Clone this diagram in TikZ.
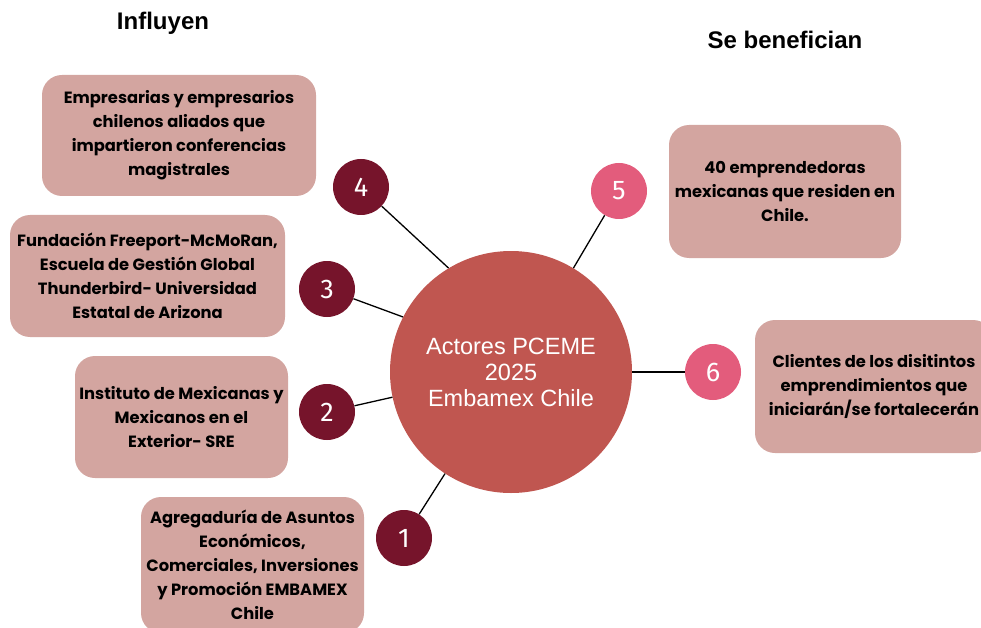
\documentclass[tikz,border=0pt]{standalone}
\usepackage{fontspec}
\setmainfont{Poppins}
\newfontfamily\headfont{Liberation Sans}
\newfontfamily\numfont{Fira Sans}
\definecolor{boxrose}{HTML}{D3A5A0}
\definecolor{hubred}{HTML}{C05650}
\definecolor{wine}{HTML}{76142B}
\definecolor{pinkish}{HTML}{E35C7C}
\tikzset{
  actor/.style={fill=boxrose, rounded corners=20pt, align=center, inner sep=2pt,
    font=\fontsize{16.3}{24}\selectfont\bfseries},
  num/.style={circle, minimum size=56pt, inner sep=0pt, text=white,
    font=\numfont\fontsize{27}{27}\selectfont},
  head/.style={font=\headfont\fontsize{24}{28}\selectfont\bfseries}
}
\begin{document}
\begin{tikzpicture}[x=1pt,y=-1pt]
\useasboundingbox (0,0) rectangle (981,628);
% Headers
\node[head] (influyen) at (163,23) {Influyen};
\node[head] (benefician) at (785,40) {Se benefician};
% Central circle
\node[circle, fill=hubred, minimum size=242pt, inner sep=0pt, text=white, align=center,
  font=\headfont\fontsize{23.5}{26}\selectfont] (hub) at (511,372)
  {Actores PCEME\\2025\\Embamex Chile};
% Boxes on the left
\node[actor, minimum width=274pt, minimum height=121pt] (box-4) at (179,135.5)
  {Empresarias y empresarios\\chilenos aliados que\\impartieron conferencias\\magistrales};
\node[actor, minimum width=275pt, minimum height=122pt] (box-3) at (147.5,276)
  {Fundación Freeport-McMoRan,\\Escuela de Gestión Global\\Thunderbird- Universidad\\Estatal de Arizona};
\node[actor, minimum width=213pt, minimum height=122pt] (box-2) at (181.5,417)
  {Instituto de Mexicanas y\\Mexicanos en el\\Exterior- SRE};
\node[actor, minimum width=223pt, minimum height=136pt] (box-1) at (252.5,565)
  {Agregaduría de Asuntos\\Económicos,\\Comerciales, Inversiones\\y Promoción EMBAMEX\\Chile};
% Boxes on the right
\node[actor, minimum width=232pt, minimum height=133pt] (box-5) at (785,191.5)
  {40 emprendedoras\\mexicanas que residen en\\Chile.};
\node[actor, minimum width=238pt, minimum height=133pt] (box-6) at (874,386.5)
  {Clientes de los disitintos\\emprendimientos que\\iniciarán/se fortalecerán};
% Numbered circles and their lines
\node[num, fill=wine] (num-4) at (361,187) {4};
\node[num, fill=wine] (num-3) at (327,289) {3};
\node[num, fill=wine] (num-2) at (327,412) {2};
\node[num, fill=wine] (num-1) at (404,538) {1};
\node[num, fill=pinkish] (num-5) at (619,191) {5};
\node[num, fill=pinkish] (num-6) at (713,372) {6};
\foreach \n/\a in {1/237,2/192,3/153,4/121,5/59,6/0}
  \draw[line width=1.3pt] (num-\n) -- (hub.\a);
\end{tikzpicture}
\end{document}
